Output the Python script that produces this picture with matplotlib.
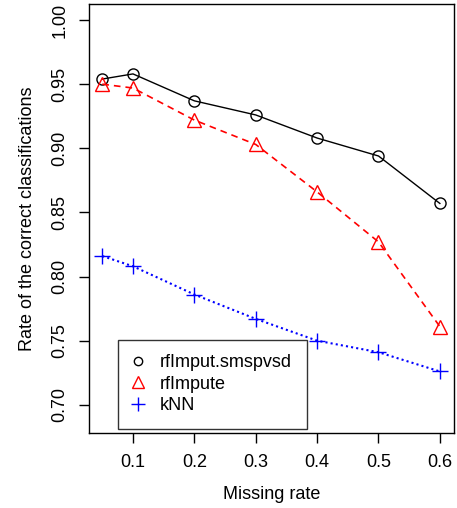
import matplotlib
matplotlib.use("Agg")
import matplotlib.pyplot as plt

plt.rcParams['font.family'] = ['Liberation Sans', 'DejaVu Sans']

# Data
missing_rate = [0.05, 0.1, 0.2, 0.3, 0.4, 0.5, 0.6]
rf_smspvsd = [0.954, 0.958, 0.937, 0.926, 0.908, 0.894, 0.857]
rf_impute = [0.950, 0.947, 0.922, 0.903, 0.866, 0.827, 0.761]
knn = [0.816, 0.808, 0.786, 0.767, 0.750, 0.741, 0.726]

xticks = [0.1, 0.2, 0.3, 0.4, 0.5, 0.6]
yticks = [0.70, 0.75, 0.80, 0.85, 0.90, 0.95, 1.00]

fig = plt.figure(figsize=(4.57, 5.08), dpi=100)
ax = fig.add_axes([0.1947, 0.1476, 0.7987, 0.8445])

ax.plot(missing_rate, rf_smspvsd, color='black', lw=1, ls='-',
        marker='o', ms=8, mfc='none', mec='black', mew=1)
ax.plot(missing_rate, rf_impute, color='red', lw=1.2, ls=(0, (4, 3)),
        marker='^', ms=10, mfc='none', mec='red', mew=1)
ax.plot(missing_rate, knn, color='blue', lw=1.5, ls=(0, (1, 1.5)),
        marker='+', ms=11, mec='blue', mew=1)

ax.set_xlim(0.0283, 0.623)
ax.set_ylim(0.678, 1.0125)
ax.set_xticks(xticks)
ax.set_xticklabels([f"{v:.1f}" for v in xticks])
ax.set_yticks(yticks)
ax.set_yticklabels([f"{v:.2f}" for v in yticks], rotation=90, va='center')
ax.tick_params(direction='out', length=7, width=1, labelsize=13, pad=8)
for s in ax.spines.values():
    s.set_linewidth(1)

ax.set_xlabel("Missing rate", fontsize=13, labelpad=11)
ax.set_ylabel("Rate of the correct classifications", fontsize=13, labelpad=11)

h1 = plt.Line2D([], [], ls='none', marker='o', ms=6, mfc='none', mec='black')
h2 = plt.Line2D([], [], ls='none', marker='^', ms=8, mfc='none', mec='red')
h3 = plt.Line2D([], [], ls='none', marker='+', ms=10, mec='blue')
leg = ax.legend([h1, h2, h3], ["rfImput.smspvsd", "rfImpute", "kNN"],
                loc='lower left', bbox_to_anchor=(0.079, 0.01), fontsize=13,
                frameon=True, fancybox=False, edgecolor='black',
                handlelength=0.6, handletextpad=0.95, borderpad=0.8,
                labelspacing=0.25, borderaxespad=0)
leg.get_frame().set_linewidth(1)

fig.savefig("out.png", dpi=100)
